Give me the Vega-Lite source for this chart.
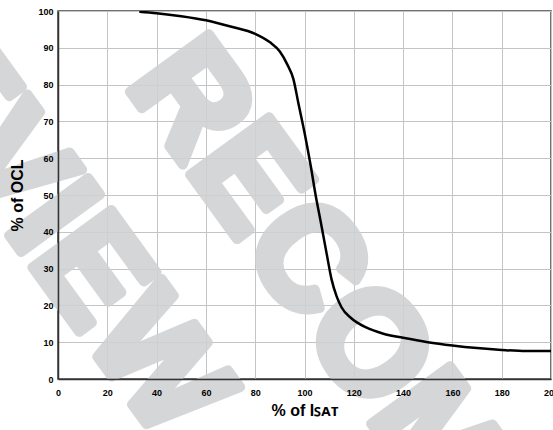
{
  "$schema": "https://vega.github.io/schema/vega-lite/v6.json",
  "autosize": {"type": "none"},
  "padding": {"left": 58, "top": 11, "right": 2, "bottom": 51},
  "width": 493,
  "height": 368,
  "datasets": {
    "curve": [
      {"isat": 33, "ocl": 99.8},
      {"isat": 40, "ocl": 99.4},
      {"isat": 50, "ocl": 98.6},
      {"isat": 60, "ocl": 97.5},
      {"isat": 70, "ocl": 95.8},
      {"isat": 80, "ocl": 93.8},
      {"isat": 86, "ocl": 91.5},
      {"isat": 90, "ocl": 89},
      {"isat": 93, "ocl": 85.5},
      {"isat": 95.5, "ocl": 81.5},
      {"isat": 97.5, "ocl": 75},
      {"isat": 100, "ocl": 67},
      {"isat": 102.5, "ocl": 58},
      {"isat": 104.5, "ocl": 50},
      {"isat": 106.5, "ocl": 43},
      {"isat": 109, "ocl": 34},
      {"isat": 111, "ocl": 27},
      {"isat": 113, "ocl": 22.5},
      {"isat": 115, "ocl": 19.5},
      {"isat": 119, "ocl": 16.5},
      {"isat": 125, "ocl": 14},
      {"isat": 132, "ocl": 12.3},
      {"isat": 140, "ocl": 11.2},
      {"isat": 150, "ocl": 10},
      {"isat": 160, "ocl": 9.1},
      {"isat": 170, "ocl": 8.4},
      {"isat": 180, "ocl": 7.9},
      {"isat": 190, "ocl": 7.6},
      {"isat": 200, "ocl": 7.6}
    ],
    "watermark": [
      {"word": "RECOMMENDED", "isat": 41, "ocl": 87},
      {"word": "PREVIEW", "isat": 56, "ocl": -11}
    ]
  },
  "resolve": {"axis": {"x": "independent", "y": "independent"}},
  "layer": [
    {
      "data": {"name": "watermark"},
      "transform": [{"filter": "datum.word == 'RECOMMENDED'"}],
      "mark": {"type": "text", "font": "Liberation Sans", "fontWeight": "bold", "fontSize": 142, "angle": 54, "align": "left", "baseline": "middle", "color": "#d0d1d3", "stroke": "#d0d1d3", "strokeWidth": 10, "strokeJoin": "round", "opacity": 0.88},
      "encoding": {
        "x": {
          "field": "isat",
          "type": "quantitative",
          "scale": {"domain": [0, 200], "nice": false},
          "axis": {"orient": "bottom", "values": [0, 20, 40, 60, 80, 100, 120, 140, 160, 180, 200], "grid": true, "labels": false, "domain": false, "ticks": false, "title": null, "zindex": 0, "minExtent": 0, "maxExtent": 0}
        },
        "y": {
          "field": "ocl",
          "type": "quantitative",
          "scale": {"domain": [0, 100], "nice": false},
          "axis": {"orient": "left", "values": [0, 10, 20, 30, 40, 50, 60, 70, 80, 90, 100], "grid": true, "labels": false, "domain": false, "ticks": false, "title": null, "zindex": 0, "minExtent": 0, "maxExtent": 0}
        },
        "text": {"field": "word"}
      }
    },
    {
      "data": {"name": "watermark"},
      "transform": [{"filter": "datum.word == 'PREVIEW'"}],
      "mark": {"type": "text", "font": "Liberation Sans", "fontWeight": "bold", "fontSize": 142, "angle": 54, "align": "right", "baseline": "middle", "color": "#d0d1d3", "stroke": "#d0d1d3", "strokeWidth": 10, "strokeJoin": "round", "opacity": 0.88},
      "encoding": {
        "x": {"field": "isat", "type": "quantitative", "scale": {"domain": [0, 200], "nice": false}, "axis": null},
        "y": {"field": "ocl", "type": "quantitative", "scale": {"domain": [0, 100], "nice": false}, "axis": null},
        "text": {"field": "word"}
      }
    },
    {
      "data": {"name": "curve"},
      "mark": {"type": "line", "color": "#000000", "strokeWidth": 2.5, "interpolate": "monotone", "clip": true},
      "encoding": {
        "x": {
          "field": "isat",
          "type": "quantitative",
          "scale": {"domain": [0, 200], "nice": false},
          "title": "% of Iꜱᴀᴛ",
          "axis": {"orient": "bottom", "grid": false, "zindex": 1, "labelFlush": false, "values": [0, 20, 40, 60, 80, 100, 120, 140, 160, 180, 200], "labelPadding": 9, "titlePadding": 5}
        },
        "y": {
          "field": "ocl",
          "type": "quantitative",
          "scale": {"domain": [0, 100], "nice": false},
          "title": "% of OCL",
          "axis": {"orient": "left", "grid": false, "zindex": 1, "labelFlush": false, "values": [0, 10, 20, 30, 40, 50, 60, 70, 80, 90, 100], "labelPadding": 5, "titlePadding": 12}
        }
      }
    }
  ],
  "config": {
    "view": {"stroke": "#444444", "strokeWidth": 1.5},
    "axis": {
      "ticks": false,
      "gridColor": "#c4c4c4",
      "gridOpacity": 1,
      "gridWidth": 1,
      "domainColor": "#333333",
      "domainWidth": 1.5,
      "labelOverlap": false,
      "labelFont": "Liberation Sans",
      "labelFontWeight": "bold",
      "labelFontSize": 9,
      "labelColor": "#000000",
      "titleFont": "Liberation Sans",
      "titleFontWeight": "bold",
      "titleFontSize": 16,
      "titleColor": "#000000"
    }
  }
}
